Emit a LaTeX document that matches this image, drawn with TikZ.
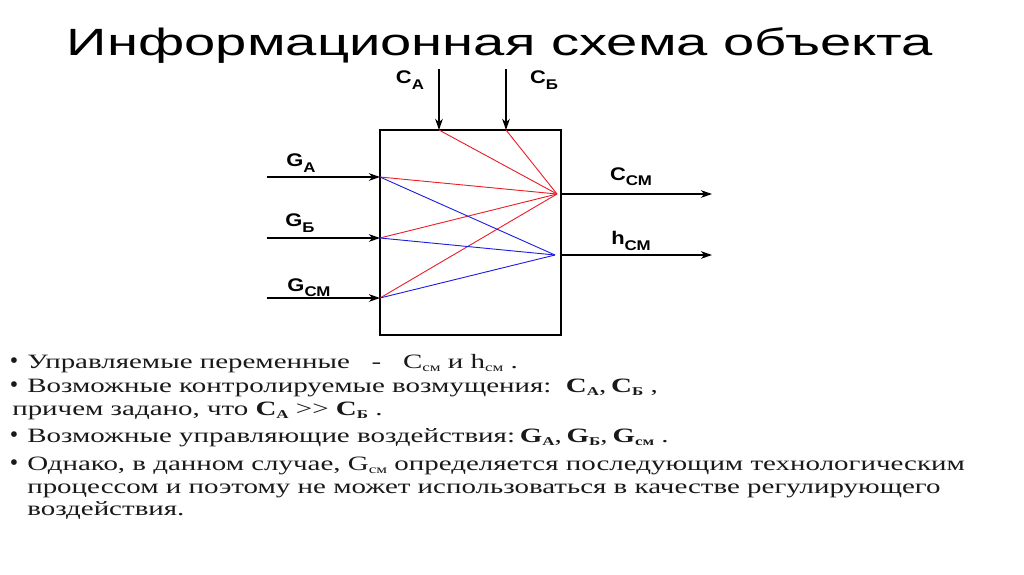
\documentclass[tikz,border=0pt]{standalone}
\usepackage{fontspec}
\setmainfont{Liberation Serif}
\newfontfamily\arialfont{Liberation Sans}
\usetikzlibrary{arrows.meta}
% the slide is stretched sideways
\newcommand{\xstr}[2]{\scalebox{#1}[1]{#2}}
% bold label with a lowered index, as on the scheme
\newcommand{\lab}[2]{\xstr{1.2}{\textbf{#1}\raisebox{-0.55ex}{\fontsize{10}{10}\selectfont\textbf{#2}}}}
% index in the running text
\newcommand{\ind}[1]{\raisebox{-0.35ex}{\fontsize{8.5}{9}\selectfont #1}}
\newcommand{\bind}[1]{\raisebox{-0.35ex}{\fontsize{8.5}{9}\selectfont\textbf{#1}}}

\begin{document}
\begin{tikzpicture}[x=0.025cm, y=-0.025cm,
    sig/.style={black, line width=1.2pt, -{Stealth[length=8pt,width=5.5pt]}},
    red/.style={draw={rgb,255:red,235;green,30;blue,40}, line width=0.65pt},
    blue/.style={draw={rgb,255:red,30;green,30;blue,225}, line width=0.65pt},
    lbl/.style={font=\arialfont\fontsize{13}{14}\selectfont, inner sep=0pt},
    txt/.style={font=\fontsize{14.5}{16}\selectfont, anchor=base west, inner sep=0pt, text=black!90},
    dot/.style={font=\fontsize{17}{17}\selectfont, anchor=base, inner sep=0pt, text=black!90}]
  \useasboundingbox (0,0) rectangle (1024,574);
  \def\L{380} \def\R{561}

  \node[font=\arialfont\fontsize{27}{30}\selectfont] (title) at (500,46) {\xstr{1.48}{Информационная схема объекта}};

  % object
  \draw[line width=1.2pt] (\L,130) rectangle (\R,335);
  \coordinate (pA) at (439,130);
  \coordinate (pB) at (506,130);
  \coordinate (gA) at (\L,177);
  \coordinate (gB) at (\L,238);
  \coordinate (gS) at (\L,298);
  \coordinate (cS) at (557,194);
  \coordinate (hS) at (555,255);

  % inputs and outputs
  \coordinate (tA) at (439,69);
  \coordinate (tB) at (506,69);
  \coordinate (sA) at (267,177);
  \coordinate (sB) at (267,238);
  \coordinate (sS) at (267,298);
  \coordinate (oC) at (\R,194);
  \coordinate (oH) at (\R,255);
  \coordinate (eC) at (712,194);
  \coordinate (eH) at (712,255);
  \draw[sig] (tA) -- (pA);
  \draw[sig] (tB) -- (pB);
  \draw[sig] (sA) -- (gA);
  \draw[sig] (sB) -- (gB);
  \draw[sig] (sS) -- (gS);
  \draw[sig] (oC) -- (eC);
  \draw[sig] (oH) -- (eH);

  % links inside
  \foreach \p in {pA,pB,gA,gB,gS} \draw[red] (\p) -- (cS);
  \foreach \p in {gA,gB,gS} \draw[blue] (\p) -- (hS);

  \node[lbl] (lCA) at (410,80) {\lab{C}{А}};
  \node[lbl] (lCB) at (544,80) {\lab{C}{Б}};
  \node[lbl] (lGA) at (301,163) {\lab{G}{А}};
  \node[lbl] (lGB) at (300,223) {\lab{G}{Б}};
  \node[lbl] (lGS) at (309,288) {\lab{G}{СМ}};
  \node[lbl] (lCS) at (631,177) {\lab{C}{СМ}};
  \node[lbl] (lHS) at (631,241) {\lab{h}{СМ}};

  % notes
  \node[dot] (b1) at (14,368) {•};
  \node[txt] (t1) at (27,368) {\xstr{1.42}{Управляемые переменные\ \ \ -\ \ \ C\ind{см} и h\ind{см} .}};
  \node[dot] (b2) at (14,392) {•};
  \node[txt] (t2) at (27,392) {\xstr{1.42}{Возможные контролируемые возмущения:\ \ \textbf{C\bind{А}},\,\textbf{C\bind{Б}} ,}};
  \node[txt] (t3) at (12,415) {\xstr{1.42}{причем задано, что \textbf{C\bind{А}} {>}{>} \textbf{C\bind{Б}} .}};
  \node[dot] (b4) at (14,442) {•};
  \node[txt] (t4) at (27,442) {\xstr{1.42}{Возможные управляющие воздействия:\,\textbf{G\bind{А}},\,\textbf{G\bind{Б}},\,\textbf{G\bind{см}} .}};
  \node[dot] (b5) at (14,470) {•};
  \node[txt] (t5) at (27,470) {\xstr{1.42}{Однако, в данном случае, G\ind{см} определяется последующим технологическим}};
  \node[txt] (t6) at (27,493) {\xstr{1.42}{процессом и поэтому не может использоваться в качестве регулирующего}};
  \node[txt] (t7) at (27,515) {\xstr{1.42}{воздействия.}};
\end{tikzpicture}
\end{document}
